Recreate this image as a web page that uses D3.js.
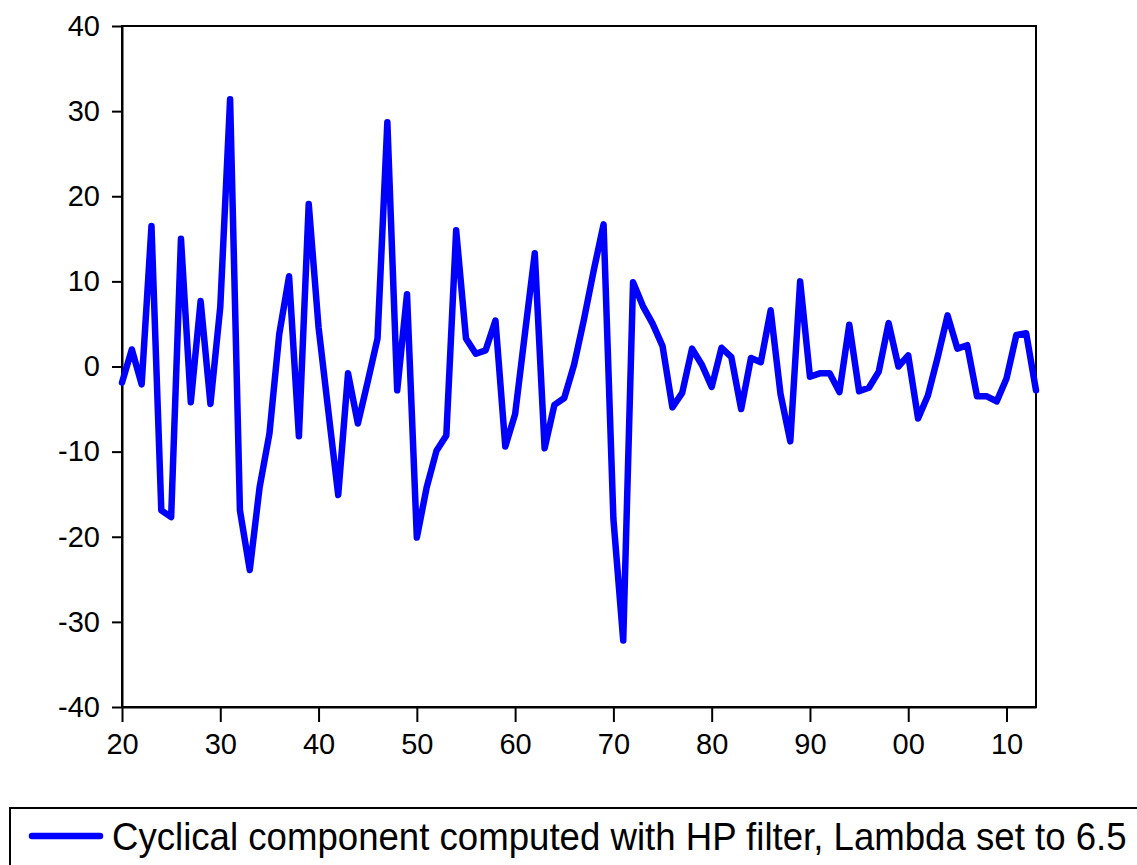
<!DOCTYPE html>
<html>
<head>
<meta charset="utf-8">
<script src="https://cdn.jsdelivr.net/npm/d3@7"></script>
<style>
  body { margin: 0; background: #fff; }
  svg { display: block; font-family: "Liberation Sans", Arial, sans-serif; }
  .axis text { font-size: 29px; fill: #000; }
  .axis path, .axis line { stroke: #000; stroke-width: 2px; }
</style>
</head>
<body>
<div id="chart"></div>
<script>
// yearly cyclical component, 1920 - 2013
var startYear = 1920;
var cycle = [
  -1.9, 2.0, -2.1, 16.5, -16.9, -17.7, 15.0, -4.2, 7.7, -4.4,
  7.0, 31.4, -16.9, -23.9, -14.2, -7.9, 3.8, 10.6, -8.2, 19.1,
  4.6, -5.3, -15.1, -0.8, -6.7, -1.8, 3.3, 28.7, -2.8, 8.5,
  -20.1, -14.2, -9.9, -8.1, 16.0, 3.3, 1.5, 1.9, 5.4, -9.4,
  -5.6, 3.9, 13.3, -9.6, -4.5, -3.7, 0.2, 5.5, 11.3, 16.7,
  -17.9, -32.2, 9.9, 7.1, 5.0, 2.4, -4.8, -3.1, 2.1, 0.2,
  -2.4, 2.2, 1.1, -5.0, 1.0, 0.5, 6.6, -3.2, -8.8, 10.0,
  -1.2, -0.8, -0.8, -3.0, 4.9, -2.9, -2.5, -0.6, 5.1, 0.0,
  1.3, -6.1, -3.4, 1.1, 6.0, 2.1, 2.5, -3.5, -3.5, -4.1,
  -1.4, 3.7, 3.9, -2.8
];
var xTickYears = [1920, 1930, 1940, 1950, 1960, 1970, 1980, 1990, 2000, 2010];
var xTickLabels = ["20", "30", "40", "50", "60", "70", "80", "90", "00", "10"];
var yTicks = [-40, -30, -20, -10, 0, 10, 20, 30, 40];
var legendLabel = "Cyclical component computed with HP filter, Lambda set to 6.5";

var data = cycle.map(function(v, i) { return {year: startYear + i, value: v}; });

var W = 1137, H = 865;
var margin = {top: 26, right: 101, bottom: 158, left: 122},
    width = W - margin.left - margin.right,
    height = H - margin.top - margin.bottom;

var svg = d3.select("#chart").append("svg")
    .attr("width", W)
    .attr("height", H);

var g = svg.append("g")
    .attr("transform", "translate(" + margin.left + "," + margin.top + ")");

var x = d3.scaleLinear()
    .domain([startYear, startYear + cycle.length - 1])
    .range([0, width]);

var y = d3.scaleLinear()
    .domain([-40, 40])
    .range([height, 0]);

// frame
g.append("rect")
    .attr("width", width)
    .attr("height", height)
    .attr("fill", "none")
    .attr("stroke", "#000")
    .attr("stroke-width", 2);

var xAxis = d3.axisBottom(x)
    .tickValues(xTickYears)
    .tickFormat(function(d, i) { return xTickLabels[i]; })
    .tickSizeInner(15)
    .tickSizeOuter(0)
    .tickPadding(11);

var yAxis = d3.axisLeft(y)
    .tickValues(yTicks)
    .tickFormat(function(d) { return String(d); }) // plain hyphen, not U+2212
    .tickSizeInner(10)
    .tickSizeOuter(0)
    .tickPadding(12);

g.append("g")
    .attr("class", "x axis")
    .attr("transform", "translate(0," + height + ")")
    .call(xAxis);

g.append("g")
    .attr("class", "y axis")
    .call(yAxis);

var line = d3.line()
    .x(function(d) { return x(d.year); })
    .y(function(d) { return y(d.value); });

g.append("path")
    .datum(data)
    .attr("fill", "none")
    .attr("stroke", "#0000ff")
    .attr("stroke-width", 6.5)
    .attr("stroke-linejoin", "round")
    .attr("stroke-linecap", "round")
    .attr("d", line);

// legend (box runs off the right edge like the original)
var leg = svg.append("g").attr("transform", "translate(10,808)");
leg.append("rect")
    .attr("width", 1140)
    .attr("height", 80)
    .attr("fill", "none")
    .attr("stroke", "#000")
    .attr("stroke-width", 2);
leg.append("line")
    .attr("x1", 22).attr("x2", 90)
    .attr("y1", 28).attr("y2", 28)
    .attr("stroke", "#0000ff")
    .attr("stroke-width", 6.5)
    .attr("stroke-linecap", "round");
// text squeezed horizontally like the original's narrow lettering
var legText = leg.append("g").append("text")
    .attr("x", 0)
    .attr("y", 0)
    .attr("font-size", 39)
    .text(legendLabel);
var natural = legText.node().getComputedTextLength();
legText.node().parentNode.setAttribute("transform",
    "translate(102,42) scale(" + (1015 / natural) + ",1)");
</script>
</body>
</html>
